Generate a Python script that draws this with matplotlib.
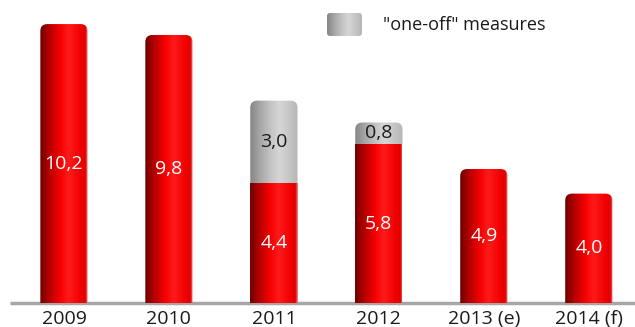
import numpy as np
import matplotlib
matplotlib.use("Agg")
import matplotlib.pyplot as plt
from matplotlib.patches import FancyBboxPatch
from matplotlib.colors import LinearSegmentedColormap

plt.rcParams['font.family'] = ['Open Sans', 'DejaVu Sans']

# deficit values, base part and "one-off" part on top
years = ["2009", "2010", "2011", "2012", "2013 (e)", "2014 (f)"]
base_vals = [10.2, 9.8, 4.4, 5.8, 4.9, 4.0]
oneoff_vals = [0.0, 0.0, 3.0, 0.8, 0.0, 0.0]
legend_label = '"one-off" measures'

# cylinder-like shading across a bar
red_cmap = LinearSegmentedColormap.from_list("red_cyl", [
    (0.0, "#6e0000"), (0.18, "#b00000"), (0.42, "#f50000"),
    (0.6, "#ff1a1a"), (0.85, "#f00000"), (0.95, "#e00000"), (1.0, "#f09090")])
grey_cmap = LinearSegmentedColormap.from_list("grey_cyl", [
    (0.0, "#858585"), (0.2, "#a5a5a5"), (0.45, "#c6c6c6"),
    (0.62, "#d6d6d6"), (0.88, "#c0c0c0"), (1.0, "#b5b5b5")])
gradient = np.linspace(0, 1, 256).reshape(1, -1)

fig = plt.figure(figsize=(6.35, 3.27), dpi=100)
ax = fig.add_axes([10 / 635, 24 / 327, 625 / 635, 303 / 327])
ax.set_xlim(-0.514, 5.44)
ax.set_ylim(0, 11.08)
ax.axis('off')

width = 0.45
px_x = 625 / (5.44 + 0.514)
px_y = 303 / 11.08
aspect = px_x / px_y
radius = 7 / px_x


def draw_segment(x, y0, h, cmap, rounded):
    left = x - width / 2
    if rounded:
        patch = FancyBboxPatch((left, y0 - 1.0), width, h + 1.0,
                               boxstyle=f"round,pad=0,rounding_size={radius}",
                               mutation_aspect=aspect, transform=ax.transData,
                               facecolor="none", edgecolor="none")
    else:
        patch = FancyBboxPatch((left, y0), width, h, boxstyle="square,pad=0",
                               transform=ax.transData,
                               facecolor="none", edgecolor="none")
    ax.add_patch(patch)
    im = ax.imshow(gradient, cmap=cmap, aspect='auto', interpolation='bilinear',
                   extent=(left, left + width, y0, y0 + h), zorder=2)
    im.set_clip_path(patch)


for i, (b, o) in enumerate(zip(base_vals, oneoff_vals)):
    draw_segment(i, 0, b, red_cmap, rounded=(o == 0))
    ax.text(i, b / 2, f"{b:.1f}".replace(".", ","), ha='center', va='center',
            color='white', fontsize=14, zorder=3)
    if o > 0:
        draw_segment(i, b, o, grey_cmap, rounded=True)
        ax.text(i, b + o / 2, f"{o:.1f}".replace(".", ","), ha='center', va='center',
                color='#1a1a1a', fontsize=14, zorder=3)

# baseline
ax.plot([-0.514, 5.44], [0, 0], color='#a6a6a6', lw=2.5, solid_capstyle='butt',
        zorder=1, clip_on=False)

for i, yr in enumerate(years):
    ax.text(i, -0.58, yr, ha='center', va='center', color='#1a1a1a', fontsize=14)

# legend swatch
lax = fig.add_axes([0, 0, 1, 1], zorder=5)
lax.set_xlim(0, 635)
lax.set_ylim(327, 0)
lax.axis('off')
sw = FancyBboxPatch((327, 13), 35, 23, boxstyle="round,pad=0,rounding_size=3",
                    facecolor="none", edgecolor="none")
lax.add_patch(sw)
swim = lax.imshow(gradient, cmap=grey_cmap, aspect='auto', extent=(327, 362, 36, 13))
swim.set_clip_path(sw)
lax.text(383, 25, legend_label, ha='left', va='center', color='#1a1a1a', fontsize=13)

fig.savefig("out.png", dpi=100)
